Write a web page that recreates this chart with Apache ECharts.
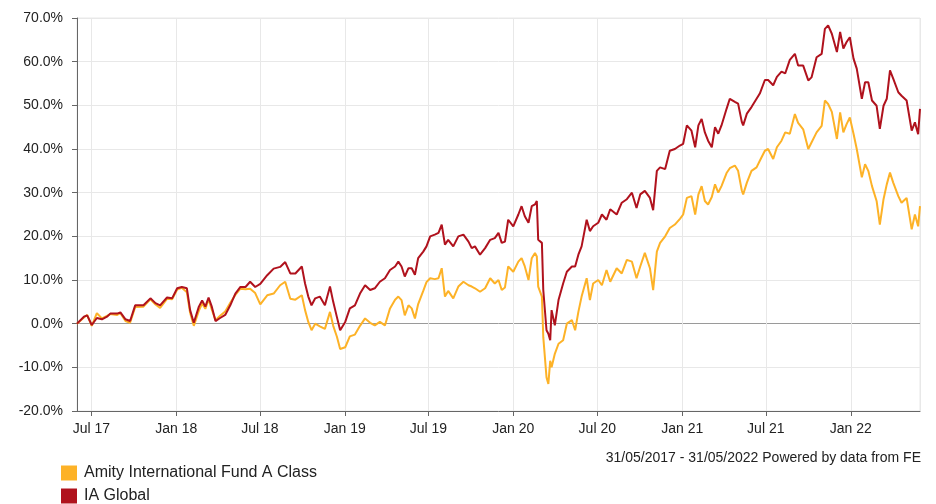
<!DOCTYPE html>
<html>
<head>
<meta charset="utf-8">
<script src="https://cdn.jsdelivr.net/npm/echarts@6/dist/echarts.min.js"></script>
<style>
html,body{margin:0;padding:0;background:#fff;}
#chart{width:936px;height:504px;}
</style>
</head>
<body>
<div id="chart"></div>
<script>
var dates = [
'2017-05-31','2017-06-15','2017-06-22','2017-07-02','2017-07-13','2017-07-24','2017-08-04','2017-08-11','2017-08-26','2017-09-02',
'2017-09-13','2017-09-23','2017-10-04','2017-10-22','2017-11-06','2017-11-17','2017-11-27','2017-12-12','2017-12-23','2018-01-03',
'2018-01-13','2018-01-24','2018-01-31','2018-02-08','2018-02-19','2018-02-26','2018-03-05','2018-03-12','2018-03-19','2018-03-27',
'2018-04-06','2018-04-17','2018-04-28','2018-05-09','2018-05-20','2018-05-31','2018-06-10','2018-06-21','2018-07-02','2018-07-17',
'2018-07-31','2018-08-14','2018-08-25','2018-09-05','2018-09-16','2018-09-30','2018-10-07','2018-10-14','2018-10-21','2018-10-29',
'2018-11-08','2018-11-19','2018-11-30','2018-12-07','2018-12-15','2018-12-22','2019-01-02','2019-01-12','2019-01-23','2019-02-03',
'2019-02-14','2019-02-25','2019-03-07','2019-03-18','2019-03-29','2019-04-09','2019-04-20','2019-04-27','2019-05-04','2019-05-11',
'2019-05-19','2019-05-26','2019-06-02','2019-06-09','2019-06-20','2019-06-27','2019-07-05','2019-07-15','2019-07-23','2019-07-30',
'2019-08-06','2019-08-13','2019-08-24','2019-09-04','2019-09-15','2019-09-26','2019-10-03','2019-10-10','2019-10-21','2019-11-01',
'2019-11-12','2019-11-22','2019-11-30','2019-12-07','2019-12-14','2019-12-21','2020-01-01','2020-01-12','2020-01-19','2020-01-26',
'2020-02-03','2020-02-10','2020-02-17','2020-02-21','2020-02-24','2020-03-03','2020-03-06','2020-03-13','2020-03-17','2020-03-21',
'2020-03-24','2020-03-31','2020-04-08','2020-04-18','2020-04-26','2020-05-07','2020-05-14','2020-05-21','2020-05-28','2020-06-08',
'2020-06-15','2020-06-22','2020-07-03','2020-07-11','2020-07-21','2020-07-29','2020-08-12','2020-08-23','2020-09-03','2020-09-14',
'2020-09-24','2020-10-02','2020-10-12','2020-10-23','2020-10-30','2020-11-07','2020-11-14','2020-11-25','2020-12-05','2020-12-16',
'2020-12-27','2021-01-03','2021-01-11','2021-01-21','2021-01-29','2021-02-05','2021-02-12','2021-02-19','2021-02-26','2021-03-06',
'2021-03-13','2021-03-20','2021-03-27','2021-04-07','2021-04-14','2021-04-25','2021-05-02','2021-05-10','2021-05-13','2021-05-21',
'2021-05-31','2021-06-11','2021-06-18','2021-06-29','2021-07-06','2021-07-17','2021-07-25','2021-08-04','2021-08-12','2021-08-22',
'2021-09-02','2021-09-09','2021-09-20','2021-10-01','2021-10-08','2021-10-19','2021-10-30','2021-11-06','2021-11-13','2021-11-21',
'2021-12-02','2021-12-09','2021-12-16','2021-12-23','2021-12-30','2022-01-07','2022-01-14','2022-01-25','2022-02-01','2022-02-08',
'2022-02-16','2022-02-26','2022-03-05','2022-03-13','2022-03-20','2022-03-27','2022-04-03','2022-04-14','2022-04-21','2022-05-02',
'2022-05-13','2022-05-20','2022-05-27','2022-05-31'
];

var amity = [
0.0,1.4,2.0,-0.5,2.4,1.2,1.8,2.2,2.0,2.4,
0.6,0.2,3.8,3.9,5.6,4.4,3.6,5.7,5.6,7.8,
8.2,7.2,2.5,-0.5,3.0,4.6,3.4,5.6,3.2,0.8,
1.8,2.8,4.8,6.6,8.0,7.9,8.0,7.0,4.4,6.5,
6.9,8.8,9.6,5.7,5.5,6.5,3.1,0.4,-1.5,0.0,
-0.6,-1.2,2.7,-0.5,-3.0,-5.8,-5.4,-2.9,-2.5,-0.5,
1.2,0.2,-0.4,0.4,-0.4,3.5,5.5,6.2,5.4,1.9,
4.2,3.5,1.2,4.5,7.5,9.5,10.4,10.2,10.4,12.7,
6.2,7.5,5.8,8.5,9.6,8.8,8.5,8.1,7.3,8.1,
10.4,9.2,10.0,7.7,8.3,13.1,11.9,14.2,15.0,13.1,
10.0,15.0,16.2,15.4,8.5,6.2,-3.1,-12.3,-13.8,-8.5,
-10.0,-6.9,-4.6,-3.8,0.0,0.8,-1.5,2.7,6.2,10.4,
5.4,9.2,10.0,8.8,12.3,9.6,12.7,11.5,14.6,14.2,
10.4,13.1,16.2,12.7,7.7,16.5,18.5,20.0,21.9,22.7,
24.0,25.0,28.8,29.2,25.0,29.6,31.5,28.1,27.3,29.0,
31.9,30.0,31.5,34.5,35.6,36.2,35.0,30.5,29.6,32.3,
35.0,35.8,37.3,39.6,40.0,37.7,40.4,41.9,43.8,43.5,
48.0,46.0,44.5,40.0,41.5,43.8,45.3,51.1,50.3,48.5,
42.3,48.4,43.8,45.7,47.2,43.5,40.0,33.5,36.5,35.0,
31.5,28.1,22.7,28.5,31.9,34.6,32.3,29.2,27.7,28.8,
21.6,25.0,22.3,26.9
];

var iaGlobal = [
0.0,1.6,1.9,-0.3,1.3,1.0,1.6,2.3,2.3,2.6,
1.0,0.6,4.2,4.2,5.8,4.7,4.2,6.0,5.8,8.1,
8.4,8.1,3.1,0.2,3.9,5.3,3.9,6.0,3.9,0.6,
1.3,2.0,4.2,6.9,8.4,8.4,9.6,8.4,9.1,11.1,
12.6,13.0,14.1,11.5,11.5,13.1,9.2,6.2,4.2,5.8,
6.2,4.2,8.5,5.0,1.5,-1.5,0.4,3.5,4.2,6.9,
8.8,7.7,8.1,9.6,10.4,12.3,13.1,14.2,13.1,10.8,
12.7,12.7,11.2,15.0,16.5,17.7,20.0,20.4,20.8,22.7,
18.1,19.2,17.7,20.0,20.4,18.8,17.3,17.7,15.8,17.3,
19.2,19.6,20.8,18.5,18.8,23.8,22.3,25.0,26.9,24.6,
23.1,26.9,27.3,28.1,19.2,18.5,7.7,-1.5,-2.3,-3.8,
3.1,-0.4,5.4,9.2,11.9,13.1,13.1,15.8,17.7,23.8,
21.2,22.3,23.1,25.0,23.8,26.2,25.0,27.7,28.5,30.0,
26.5,29.6,30.4,28.8,26.0,35.0,35.8,35.4,39.6,40.0,
40.8,41.2,45.4,44.2,40.4,45.4,46.9,43.8,41.9,40.4,
45.0,43.5,45.4,49.2,51.5,50.8,50.4,46.2,45.4,48.1,
49.6,51.5,52.7,55.8,55.8,54.6,56.5,57.7,57.3,60.4,
61.8,59.1,59.1,55.7,56.4,61.0,61.8,67.5,68.3,66.4,
62.2,66.8,63.0,64.5,65.6,60.7,58.4,51.5,55.3,55.3,
51.1,49.9,44.6,49.9,51.5,58.0,56.1,53.0,52.2,51.1,
44.2,46.1,43.4,49.2
];

var seriesNames = ['Amity International Fund A Class', 'IA Global'];
var seriesColors = ['#fdb227', '#b0121d'];
var footerText = '31/05/2017 - 31/05/2022 Powered by data from FE';
var monthNames = ['Jan','Feb','Mar','Apr','May','Jun','Jul','Aug','Sep','Oct','Nov','Dec'];

function pairs(vals) {
  return dates.map(function (d, i) { return [d, vals[i]]; });
}

var gridCol = '#e8e8e8';
var splitColors = [gridCol, gridCol, '#9a9a9a', gridCol, gridCol, gridCol, gridCol, gridCol, gridCol, gridCol];

function legendFor(i, top) {
  return {
    orient: 'vertical', left: 61, top: top, itemWidth: 16, itemHeight: 15, itemGap: 8,
    padding: 0, icon: 'rect', selectedMode: false,
    textStyle: {fontSize: 16, color: '#222', padding: [0, 0, 0, 2]},
    data: [seriesNames[i]]
  };
}

var chart = echarts.init(document.getElementById('chart'), null, {renderer: 'canvas'});
chart.setOption({
  animation: false,
  backgroundColor: '#ffffff',
  textStyle: {fontFamily: 'Liberation Sans, Arial, sans-serif'},
  grid: {left: 77, right: 16, top: 18, bottom: 93, show: true, borderColor: gridCol, borderWidth: 1},
  legend: [legendFor(0, 465), legendFor(1, 488)],
  graphic: [{
    type: 'text', right: 15, top: 451,
    style: {text: footerText, font: '14px "Liberation Sans", Arial, sans-serif', fill: '#222'}
  }],
  xAxis: {
    type: 'time',
    min: '2017-05-31', max: '2022-05-31',
    splitNumber: 10,
    axisLine: {onZero: false, lineStyle: {color: '#666', width: 1}},
    axisTick: {show: true, length: 5, lineStyle: {color: '#666'}},
    axisLabel: {
      fontSize: 14, color: '#222', margin: 11, hideOverlap: false,
      formatter: function (v) {
        var d = new Date(v);
        return monthNames[d.getMonth()] + ' ' + String(d.getFullYear()).slice(2);
      }
    },
    splitLine: {show: true, lineStyle: {color: gridCol, width: 1}}
  },
  yAxis: {
    type: 'value', min: -20, max: 70, interval: 10,
    axisLine: {show: true, lineStyle: {color: '#666', width: 1}},
    axisTick: {show: true, length: 5, lineStyle: {color: '#666'}},
    axisLabel: {fontSize: 14, color: '#222', margin: 14, formatter: function (v) { return v.toFixed(1) + '%'; }},
    splitLine: {show: true, lineStyle: {color: splitColors, width: 1}}
  },
  series: [
    {
      name: seriesNames[0], type: 'line', data: pairs(amity), showSymbol: false, symbol: 'none',
      lineStyle: {color: seriesColors[0], width: 2}, itemStyle: {color: seriesColors[0]},
      z: 2
    },
    {
      name: seriesNames[1], type: 'line', data: pairs(iaGlobal), showSymbol: false, symbol: 'none',
      lineStyle: {color: seriesColors[1], width: 2}, itemStyle: {color: seriesColors[1]},
      z: 3
    }
  ]
});
</script>
</body>
</html>
